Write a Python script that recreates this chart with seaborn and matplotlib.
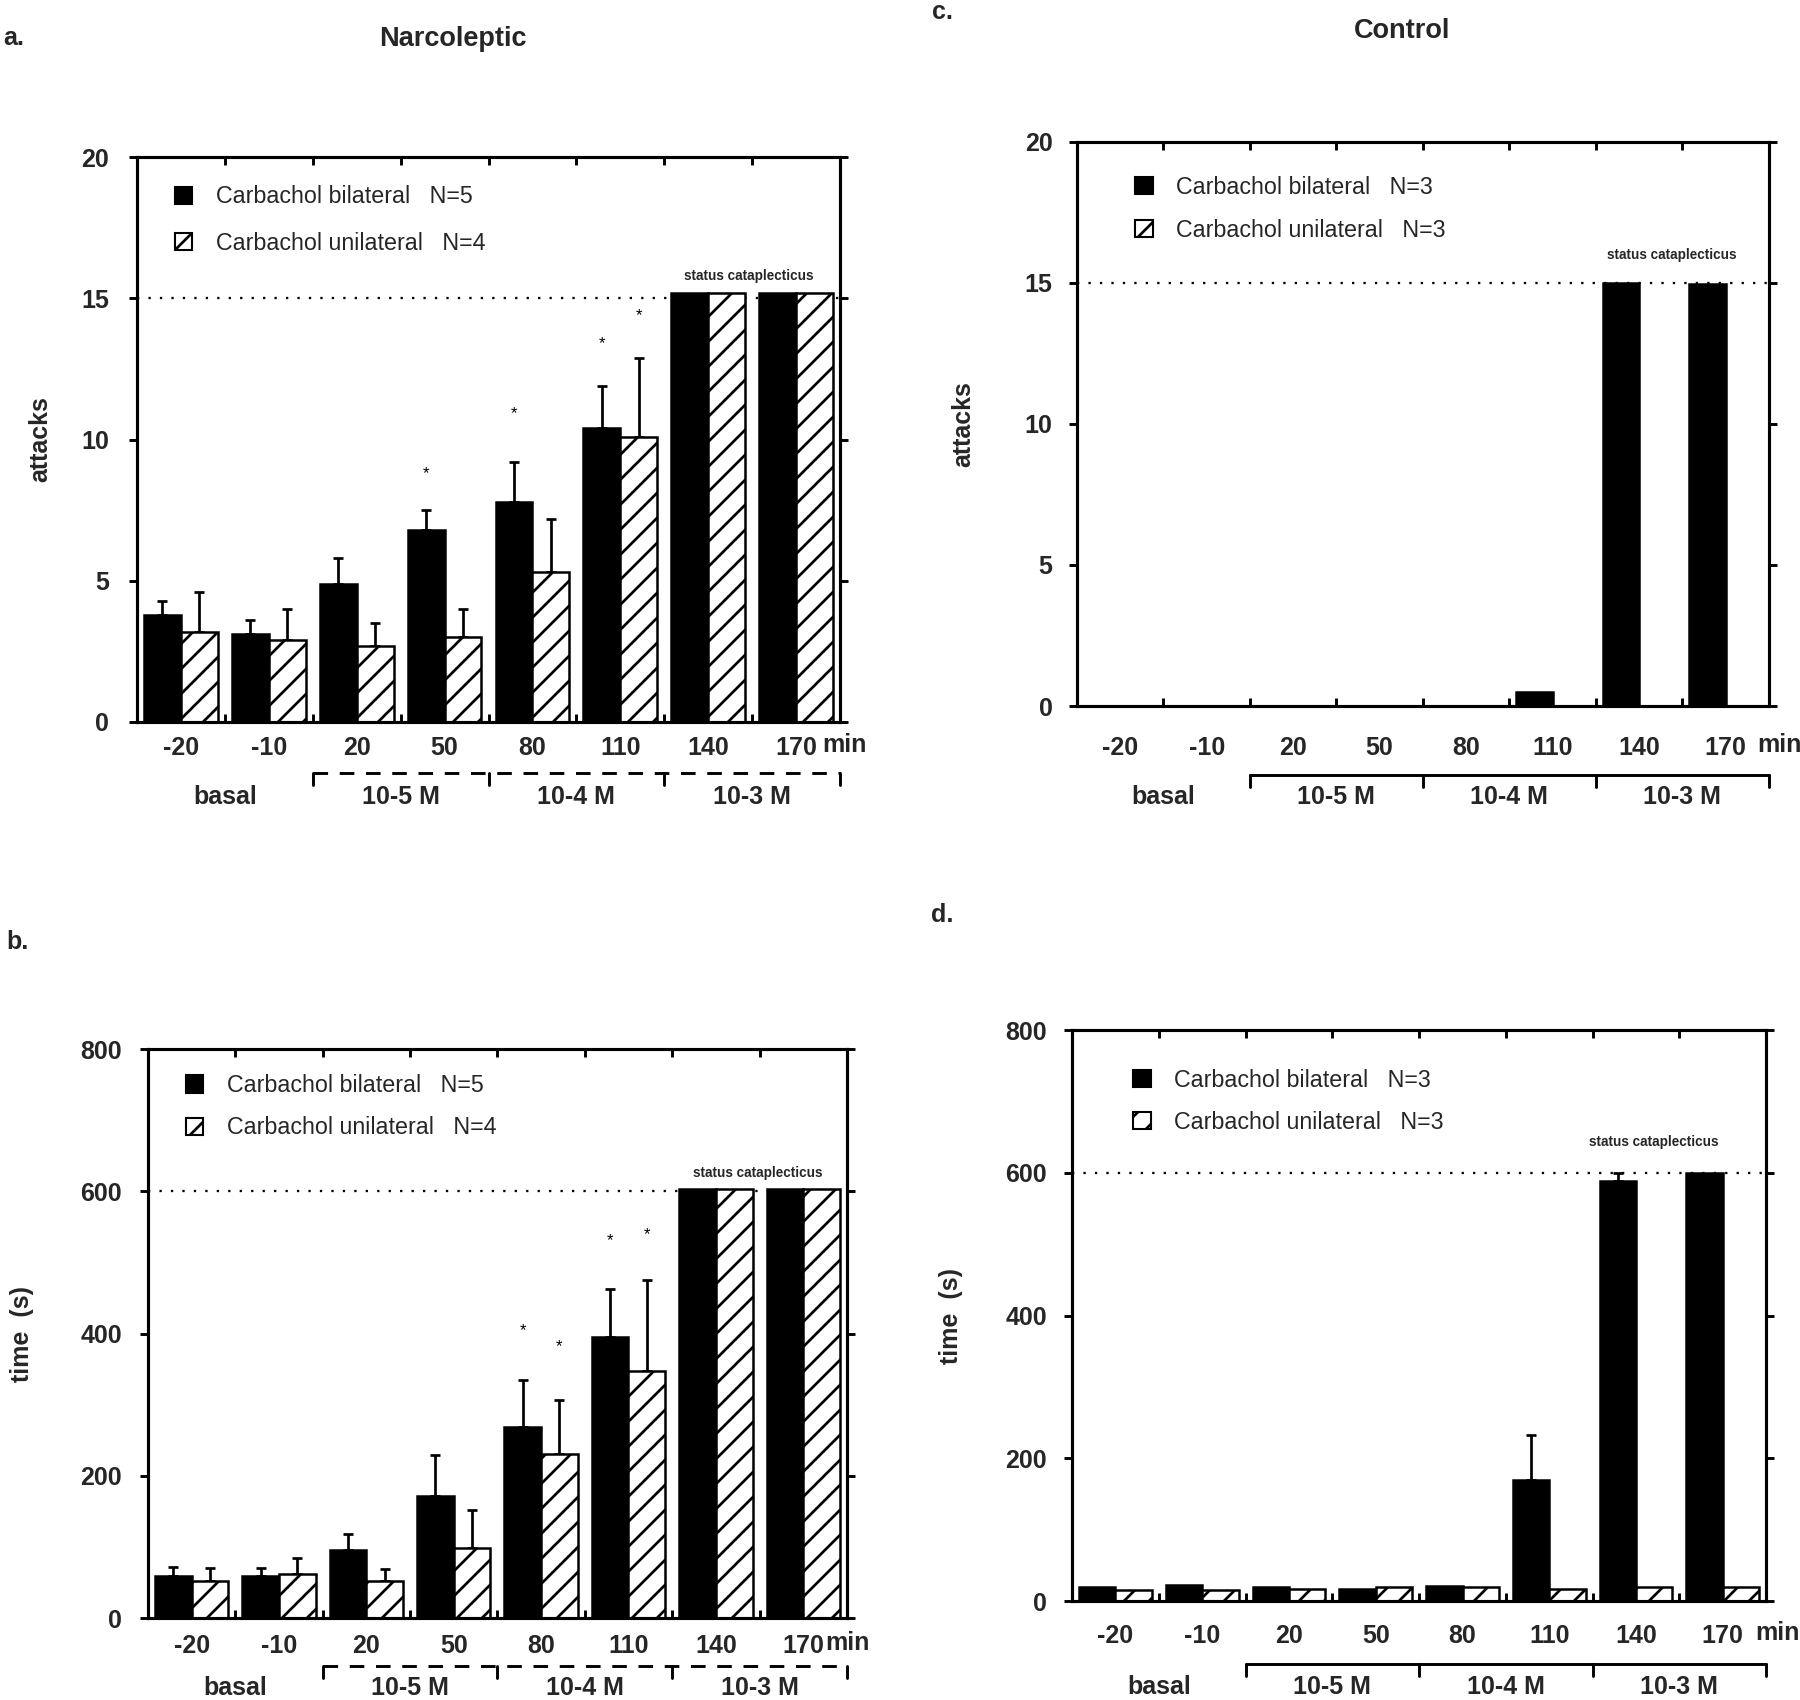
import numpy as np
import pandas as pd
import matplotlib.pyplot as plt
import seaborn as sns
from matplotlib import transforms
from matplotlib.patches import Patch

times = ["-20", "-10", "20", "50", "80", "110", "140", "170"]
groups = ["bilateral", "unilateral"]
conc_labels = ["basal", "10-5 M", "10-4 M", "10-3 M"]
nan = np.nan

# a. narcoleptic - attacks
a_bil = [3.8, 3.1, 4.9, 6.8, 7.8, 10.4, 15.2, 15.2]
a_bil_err = [4.3, 3.6, 5.8, 7.5, 9.2, 11.9, nan, nan]
a_uni = [3.2, 2.9, 2.7, 3.0, 5.3, 10.1, 15.2, 15.2]
a_uni_err = [4.6, 4.0, 3.5, 4.0, 7.2, 12.9, nan, nan]
a_star_idx = [3, 4, 5, 5]
a_star_grp = [0, 0, 0, 1]
a_star_y = [8.8, 10.9, 13.4, 14.4]

# b. narcoleptic - time (s)
b_bil = [59, 59, 95, 171, 269, 395, 603, 603]
b_bil_err = [72, 71, 118, 229, 335, 462, nan, nan]
b_uni = [52, 62, 52, 98, 230, 347, 603, 603]
b_uni_err = [71, 85, 69, 152, 307, 475, nan, nan]
b_star_idx = [4, 4, 5, 5]
b_star_grp = [0, 1, 0, 1]
b_star_y = [404, 382, 530, 539]

# c. control - attacks
c_bil = [0, 0, 0, 0, 0, 0.5, 15.0, 14.95]
c_bil_err = [nan] * 8
c_uni = [0, 0, 0, 0, 0, 0, 0, 0]
c_uni_err = [nan] * 8

# d. control - time (s)
d_bil = [20, 22, 20, 17, 21, 170, 588, 600]
d_bil_err = [nan, nan, nan, nan, nan, 233, 600, nan]
d_uni = [16, 16, 17, 19, 20, 17, 19, 19]
d_uni_err = [nan] * 8

sns.set_theme(style="white")
plt.rcParams['font.family'] = ['Liberation Sans', 'DejaVu Sans']
plt.rcParams['hatch.linewidth'] = 1.3

fig = plt.figure(figsize=(12, 17 / 1.5), dpi=150)


def draw_panel(rect, bil, uni, bil_err, uni_err, ymax, yticks, ylabel, label_x,
               limit, status_xy, leg_xy, leg_space, n_bil, n_uni, tick_pad, ytick_pad,
               min_y, min_x, br_y, br_lab_y, br_style, stars=None):
    ax = fig.add_axes(rect)
    df = pd.DataFrame({
        "time": times * 2,
        "group": ["bilateral"] * 8 + ["unilateral"] * 8,
        "value": list(bil) + list(uni),
    })
    sns.barplot(data=df, x="time", y="value", hue="group", order=times, hue_order=groups,
                palette={"bilateral": "black", "unilateral": "white"}, saturation=1,
                edgecolor="black", linewidth=1.2, width=0.84, errorbar=None,
                legend=False, ax=ax, zorder=2)
    for p in ax.containers[1]:
        p.set_hatch("//")

    # upper error bars only
    for cont, err in zip(ax.containers, [bil_err, uni_err]):
        xs = np.array([p.get_x() + p.get_width() / 2 for p in cont])
        tops = np.array([p.get_height() for p in cont])
        err = np.array(err, dtype=float)
        m = ~np.isnan(err)
        if m.any():
            ax.errorbar(xs[m], tops[m], yerr=[np.zeros(m.sum()), err[m] - tops[m]],
                        fmt="none", ecolor="black", elinewidth=1.3, capsize=2.5,
                        capthick=1.3, zorder=1)

    if stars is not None:
        for i, g, y in zip(*stars):
            p = ax.containers[g][i]
            ax.text(p.get_x() + p.get_width() / 2, y, "*", ha="center", va="center",
                    fontsize=8, color="black")

    ax.axhline(limit, color="black", lw=1.1, ls=(0, (1, 4)), zorder=1)
    ax.text(status_xy[0], status_xy[1], "status cataplecticus", ha="center", va="center",
            fontsize=6.5, fontweight="bold")

    ax.set_xlim(-0.5, 7.5)
    ax.set_ylim(0, ymax)
    ax.set_yticks(yticks)
    ax.set_yticklabels([str(t) for t in yticks], fontsize=12, fontweight="bold")
    ax.set_xticks(range(8))
    ax.set_xticklabels(times, fontsize=12, fontweight="bold")
    ax.set_xticks(np.arange(0.5, 7.5, 1), minor=True)
    ax.tick_params(axis="x", which="major", length=0, pad=tick_pad)
    ax.tick_params(axis="x", which="minor", direction="in", top=True, bottom=True,
                   length=4, width=1.4, color="black")
    ax.tick_params(axis="y", direction="out", left=True, right=True, length=4,
                   width=1.4, color="black", pad=ytick_pad, labelright=False)
    for s in ax.spines.values():
        s.set_color("black")
        s.set_linewidth(1.5)
    ax.set_xlabel("")
    ax.set_ylabel(ylabel, fontsize=12, fontweight="bold")
    ax.yaxis.set_label_coords(label_x, 0.5)

    trans = transforms.blended_transform_factory(ax.transData, ax.transAxes)
    ax.text(min_x, min_y, "min", transform=trans, ha="left", va="center",
            fontsize=12, fontweight="bold")
    ax.plot([1.5, 7.5], [br_y, br_y], transform=trans, clip_on=False, color="black",
            lw=1.4, ls=br_style)
    for xb in [1.5, 3.5, 5.5, 7.5]:
        ax.plot([xb, xb], [br_y, br_y - 0.022], transform=trans, clip_on=False,
                color="black", lw=1.4)
    for xc, lab in zip([0.5, 2.5, 4.5, 6.5], conc_labels):
        ax.text(xc, br_lab_y, lab, transform=trans, ha="center", va="center",
                fontsize=12, fontweight="bold")

    handles = [Patch(facecolor="black", edgecolor="black"),
               Patch(facecolor="white", edgecolor="black", hatch="//")]
    ax.legend(handles, [f"Carbachol bilateral   N={n_bil}",
                        f"Carbachol unilateral   N={n_uni}"],
              loc="upper left", bbox_to_anchor=leg_xy, frameon=False, fontsize=11.2,
              handlelength=0.75, handleheight=0.75, handletextpad=1.0,
              labelspacing=leg_space, borderpad=0, borderaxespad=0)
    return ax


# a.
draw_panel([0.0761, 0.5753, 0.3906, 0.3323], a_bil, a_uni, a_bil_err, a_uni_err,
           20, [0, 5, 10, 15, 20], "attacks", -0.121, 15, (6.46, 15.8),
           (0.054, 0.95), 1.0, 5, 4, 6.7, 9.5, -0.041, 7.3, -0.090, -0.133, (0, (5, 4)),
           stars=(a_star_idx, a_star_grp, a_star_y))
# c.
draw_panel([0.5983, 0.5847, 0.3844, 0.3318], c_bil, c_uni, c_bil_err, c_uni_err,
           20, [0, 5, 10, 15, 20], "attacks", -0.147, 15, (6.38, 16.0),
           (0.084, 0.94), 0.85, 3, 3, 14.4, 7.7, -0.069, 7.36, -0.122, -0.161, "-")
# b.
draw_panel([0.0822, 0.0482, 0.3883, 0.3347], b_bil, b_uni, b_bil_err, b_uni_err,
           800, [0, 200, 400, 600, 800], "time  (s)", -0.163, 600, (6.48, 626),
           (0.054, 0.956), 0.82, 5, 4, 7.7, 8.5, -0.044, 7.25, -0.084, -0.123, (0, (5, 4)),
           stars=(b_star_idx, b_star_grp, b_star_y))
# d.
draw_panel([0.5956, 0.0582, 0.3856, 0.3359], d_bil, d_uni, d_bil_err, d_uni_err,
           800, [0, 200, 400, 600, 800], "time  (s)", -0.157, 600, (6.2, 643),
           (0.088, 0.932), 0.82, 3, 3, 11.0, 8.0, -0.056, 7.38, -0.110, -0.151, "-")

fig.text(453 / 1800, 1 - 39 / 1700, "Narcoleptic", ha="center", va="center",
         fontsize=13, fontweight="bold")
fig.text(1402 / 1800, 1 - 31 / 1700, "Control", ha="center", va="center",
         fontsize=13, fontweight="bold")
fig.text(3 / 1800, 1 - 38 / 1700, "a.", ha="left", va="center", fontsize=12, fontweight="bold")
fig.text(942 / 1800, 1 - 12 / 1700, "c.", ha="center", va="center", fontsize=12, fontweight="bold")
fig.text(17 / 1800, 1 - 942 / 1700, "b.", ha="center", va="center", fontsize=12, fontweight="bold")
fig.text(942 / 1800, 1 - 915 / 1700, "d.", ha="center", va="center", fontsize=12, fontweight="bold")

fig.savefig("out.png", dpi=150, facecolor="white")
